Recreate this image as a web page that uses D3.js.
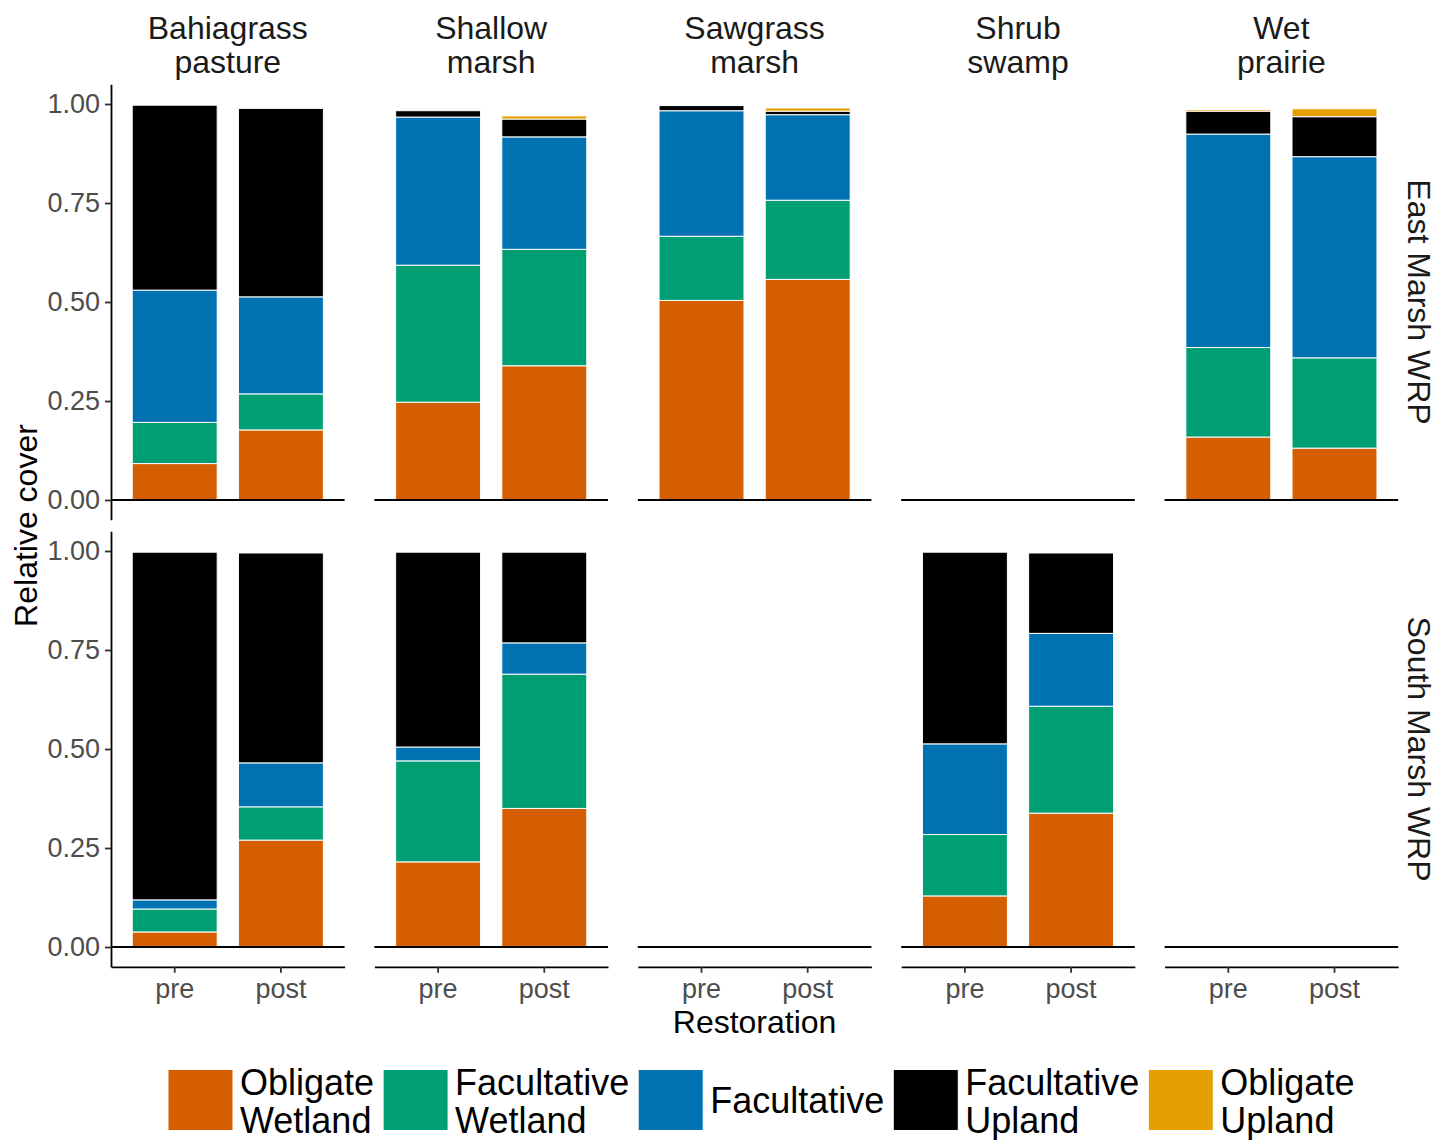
<!DOCTYPE html>
<html>
<head>
<meta charset="utf-8">
<script src="https://cdn.jsdelivr.net/npm/d3@7"></script>
<style>
  body { margin: 0; background: #fff; }
  text { font-family: "Liberation Sans", Arial, sans-serif; }
</style>
</head>
<body>
<script>
// ---------------- DATA ----------------
const habitats = ["Bahiagrass pasture", "Shallow marsh", "Sawgrass marsh", "Shrub swamp", "Wet prairie"];
const habitatStrip = [["Bahiagrass", "pasture"], ["Shallow", "marsh"], ["Sawgrass", "marsh"], ["Shrub", "swamp"], ["Wet", "prairie"]];
const sites = ["East Marsh WRP", "South Marsh WRP"];
const periods = ["pre", "post"];
const classes = ["Obligate Wetland", "Facultative Wetland", "Facultative", "Facultative Upland", "Obligate Upland"];
const classLabel = [["Obligate", "Wetland"], ["Facultative", "Wetland"], ["Facultative"], ["Facultative", "Upland"], ["Obligate", "Upland"]];
const classColors = ["#D55E00", "#009E73", "#0072B2", "#000000", "#E69F00"];
const yTicks = [0, 0.25, 0.5, 0.75, 1];

// one entry per bar
const barSite = ["East Marsh WRP", "East Marsh WRP", "East Marsh WRP", "East Marsh WRP", "East Marsh WRP", "East Marsh WRP", "East Marsh WRP", "East Marsh WRP",
                 "South Marsh WRP", "South Marsh WRP", "South Marsh WRP", "South Marsh WRP", "South Marsh WRP", "South Marsh WRP"];
const barHabitat = ["Bahiagrass pasture", "Bahiagrass pasture", "Shallow marsh", "Shallow marsh", "Sawgrass marsh", "Sawgrass marsh", "Wet prairie", "Wet prairie",
                    "Bahiagrass pasture", "Bahiagrass pasture", "Shallow marsh", "Shallow marsh", "Shrub swamp", "Shrub swamp"];
const barPeriod = ["pre", "post", "pre", "post", "pre", "post", "pre", "post", "pre", "post", "pre", "post", "pre", "post"];

const obligateWetland    = [0.092, 0.177, 0.247, 0.339, 0.504, 0.557, 0.159, 0.131, 0.038, 0.270, 0.215, 0.350, 0.129, 0.338];
const facultativeWetland = [0.104, 0.091, 0.346, 0.294, 0.162, 0.200, 0.226, 0.228, 0.058, 0.084, 0.255, 0.339, 0.155, 0.270];
const facultative        = [0.334, 0.245, 0.374, 0.284, 0.317, 0.216, 0.539, 0.508, 0.023, 0.111, 0.035, 0.079, 0.229, 0.184];
const facultativeUpland  = [0.467, 0.476, 0.016, 0.045, 0.013, 0.009, 0.058, 0.101, 0.878, 0.530, 0.492, 0.229, 0.484, 0.203];
const obligateUpland     = [0.000, 0.000, 0.000, 0.008, 0.000, 0.008, 0.004, 0.020, 0.000, 0.000, 0.000, 0.000, 0.000, 0.000];

const seriesValues = [obligateWetland, facultativeWetland, facultative, facultativeUpland, obligateUpland];

// table built from the arrays
const table = barSite.map((s, i) => {
  const row = { site: s, habitat: barHabitat[i], period: barPeriod[i] };
  classes.forEach((c, k) => row[c] = seriesValues[k][i]);
  return row;
});

// ---------------- LAYOUT ----------------
const W = 1451, H = 1140;
const panelLeft0 = 111, panelW = 233.6, panelStep = 263.4;
const rowZero = [500, 947], unit = 396;

const svg = d3.select("body").append("svg").attr("width", W).attr("height", H);

const stack = d3.stack().keys(classes);

sites.forEach((site, r) => {
  const y = d3.scaleLinear().domain([-0.05, 1.05])
    .range([rowZero[r] + 0.05 * unit, rowZero[r] - 1.05 * unit]);

  habitats.forEach((hab, c) => {
    const left = panelLeft0 + c * panelStep;
    const x = d3.scaleBand().domain(periods).range([left, left + panelW])
      .paddingInner(0.2).paddingOuter(0.2);
    const g = svg.append("g");
    const rows = table.filter(d => d.site === site && d.habitat === hab);
    const stacked = stack(rows);

    stacked.forEach((layer, k) => {
      g.append("g").selectAll("rect")
        .data(layer.filter(d => d[1] - d[0] > 0))
        .join("rect")
        .attr("x", d => x(d.data.period))
        .attr("width", x.bandwidth())
        .attr("y", d => y(d[1]))
        .attr("height", d => y(d[0]) - y(d[1]))
        .attr("fill", classColors[k])
        .attr("stroke", "#ffffff")
        .attr("stroke-width", 1);
    });

    // horizontal line at 0
    g.append("line")
      .attr("x1", left).attr("x2", left + panelW)
      .attr("y1", y(0)).attr("y2", y(0))
      .attr("stroke", "#000").attr("stroke-width", 1.8);

    // y axis
    if (c === 0) {
      const ya = g.append("g").attr("transform", `translate(${left},0)`)
        .call(d3.axisLeft(y).tickValues(yTicks).tickFormat(d3.format(".2f"))
          .tickSize(6).tickPadding(5).tickSizeOuter(0));
      ya.select(".domain").attr("stroke", "#000").attr("stroke-width", 1.8);
      ya.selectAll(".tick line").attr("stroke", "#333").attr("stroke-width", 1.8);
      ya.selectAll(".tick text").attr("fill", "#4D4D4D").style("font-size", "27px")
        .style("font-family", '"Liberation Sans", Arial, sans-serif');
    }
    // x axis on bottom row
    if (r === sites.length - 1) {
      const xa = g.append("g").attr("transform", `translate(0,${y(-0.05)})`)
        .call(d3.axisBottom(x).tickSize(6).tickPadding(6).tickSizeOuter(0));
      xa.select(".domain").attr("stroke", "#000").attr("stroke-width", 1.8);
      xa.selectAll(".tick line").attr("stroke", "#333").attr("stroke-width", 1.8);
      xa.selectAll(".tick text").attr("fill", "#4D4D4D").style("font-size", "27px")
        .style("font-family", '"Liberation Sans", Arial, sans-serif');
    }

    // top strips
    if (r === 0) {
      const cx = left + panelW / 2;
      const t = svg.append("text").attr("text-anchor", "middle")
        .attr("fill", "#1A1A1A").style("font-size", "32px");
      habitatStrip[c].forEach((line, li) => {
        t.append("tspan").attr("x", cx).attr("y", 39 + li * 34).text(line);
      });
    }
  });

  // right strip
  const cy = rowZero[r] - 0.5 * unit;
  svg.append("text")
    .attr("transform", `translate(1408,${cy}) rotate(90)`)
    .attr("text-anchor", "middle")
    .attr("fill", "#1A1A1A").style("font-size", "32px")
    .text(site);
});

// axis titles
svg.append("text")
  .attr("transform", `translate(37,${(rowZero[0] - 1.05 * unit + rowZero[1] + 0.05 * unit) / 2}) rotate(-90)`)
  .attr("text-anchor", "middle").attr("fill", "#000").style("font-size", "32px")
  .text("Relative cover");

svg.append("text")
  .attr("x", (panelLeft0 + panelLeft0 + 4 * panelStep + panelW) / 2).attr("y", 1033)
  .attr("text-anchor", "middle").attr("fill", "#000").style("font-size", "32px")
  .text("Restoration");

// legend
const lg = svg.append("g");
let lx = 168;
const keyW = 65, keyH = 61, keyTop = 1069.5;
classes.forEach((cl, k) => {
  lg.append("rect").attr("x", lx).attr("y", keyTop).attr("width", keyW).attr("height", keyH)
    .attr("fill", classColors[k]).attr("stroke", "#fff").attr("stroke-width", 1);
  const lines = classLabel[k];
  let tw = 0;
  lines.forEach((line, li) => {
    const yy = lines.length === 1 ? 1113 : 1095 + li * 38;
    const t = lg.append("text").attr("fill", "#000").style("font-size", "36px")
      .attr("x", lx + keyW + 7).attr("y", yy).text(line);
    tw = Math.max(tw, t.node().getComputedTextLength());
  });
  lx += keyW + 7 + tw + 9;
});
</script>
</body>
</html>
